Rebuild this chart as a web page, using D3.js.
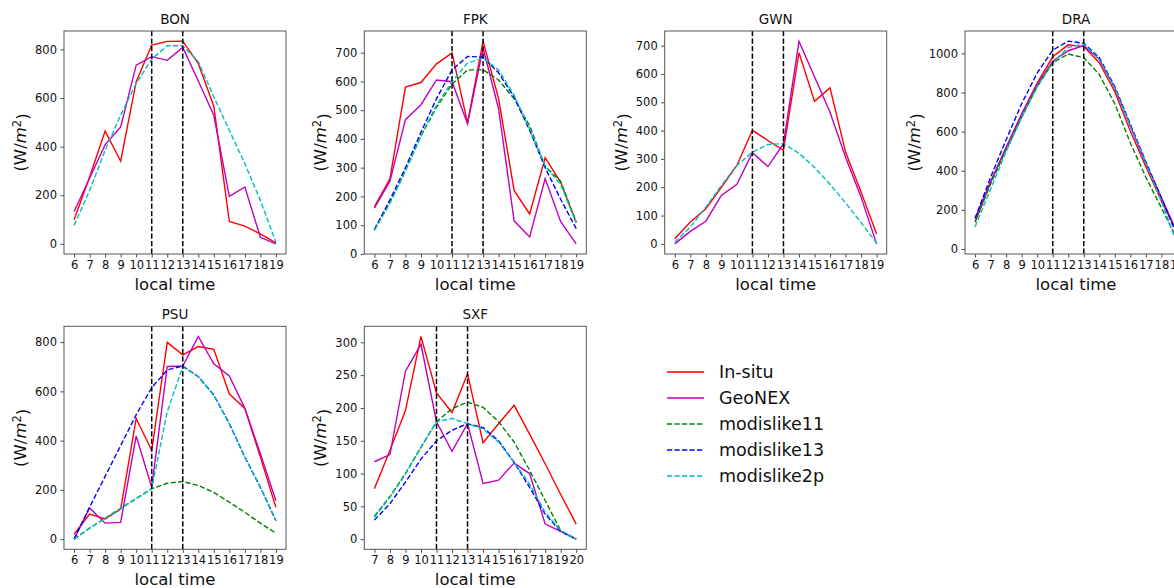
<!DOCTYPE html>
<html>
<head>
<meta charset="utf-8">
<script src="https://cdn.jsdelivr.net/npm/d3@7"></script>
<style>
  body { margin: 0; background: #fff; }
  text { font-family: "DejaVu Sans", sans-serif; fill: #111; }
</style>
</head>
<body>
<svg id="chart" width="1174" height="588"></svg>
<script>
// ---- data ----
const hours6to19 = [6, 7, 8, 9, 10, 11, 12, 13, 14, 15, 16, 17, 18, 19];
const hours7to20 = [7, 8, 9, 10, 11, 12, 13, 14, 15, 16, 17, 18, 19, 20];

const seriesNames = ['In-situ', 'GeoNEX', 'modislike11', 'modislike13', 'modislike2p'];
const seriesColors = ['#ff0000', '#bf00bf', '#008000', '#0000ff', '#00bfbf'];
const seriesDashed = [false, false, true, true, true];

const stations = ['BON', 'FPK', 'GWN', 'DRA', 'PSU', 'SXF'];
const yTickSteps = [200, 100, 100, 200, 200, 50];
const overpassHours = [11, 13];

const BON = {
  insitu: [99, 275, 464, 340, 667, 818, 833, 834, 742, 566, 92, 73, 41, 4],
  geonex: [133, 270, 408, 481, 735, 770, 755, 808, 670, 529, 195, 234, 27, 0],
  m11: null,
  m13: null,
  m2p: [76, 220, 385, 530, 660, 760, 815, 815, 750, 605, 467, 330, 179, 7]
};
const FPK = {
  insitu: [164, 261, 580, 596, 661, 699, 456, 740, 540, 221, 139, 335, 249, 108],
  geonex: [159, 253, 467, 519, 605, 599, 452, 716, 505, 115, 59, 262, 112, 35],
  m11: [85, 180, 290, 410, 510, 590, 640, 640, 605, 540, 446, 305, 252, 112],
  m13: [85, 188, 300, 423, 540, 640, 687, 684, 630, 545, 430, 300, 190, 88],
  m2p: [82, 176, 288, 411, 517, 599, 664, 681, 640, 552, 435, 305, 241, 108]
};
const GWN = {
  insitu: [18, 77, 124, 200, 277, 401, 365, 330, 675, 504, 551, 324, 183, 35],
  geonex: [0, 44, 80, 171, 210, 322, 273, 354, 716, 590, 465, 306, 165, 0],
  m11: null,
  m13: null,
  m2p: [6, 59, 130, 206, 277, 324, 351, 354, 320, 270, 210, 145, 75, 3]
};
const DRA = {
  insitu: [136, 341, 516, 690, 848, 983, 1044, 1035, 953, 804, 603, 420, 245, 87],
  geonex: [157, 345, 520, 690, 840, 960, 1014, 1040, 970, 822, 629, 437, 262, 87],
  m11: [140, 332, 507, 673, 830, 953, 997, 979, 892, 743, 542, 367, 210, 52],
  m13: [157, 367, 559, 743, 900, 1017, 1063, 1052, 979, 830, 638, 446, 262, 70],
  m2p: [114, 306, 498, 673, 830, 953, 1031, 1049, 970, 822, 629, 437, 245, 26]
};
const PSU = {
  insitu: [20, 102, 82, 122, 490, 360, 799, 748, 782, 771, 589, 531, 333, 129],
  geonex: [0, 127, 65, 68, 419, 211, 701, 703, 823, 712, 663, 531, 347, 156],
  m11: [0, 45, 85, 125, 165, 205, 227, 234, 218, 190, 150, 109, 65, 24],
  m13: [0, 130, 255, 380, 505, 615, 687, 703, 660, 585, 469, 333, 211, 75],
  m2p: [0, 45, 85, 125, 165, 205, 517, 700, 660, 585, 469, 333, 211, 75]
};
const SXF = {
  insitu: [77, 135, 196, 309, 223, 193, 252, 147, 176, 204, 160, 115, 68, 23],
  geonex: [118, 129, 256, 297, 179, 134, 176, 85, 90, 116, 100, 23, 12, 0],
  m11: [35, 65, 100, 140, 179, 199, 209, 201, 179, 148, 105, 59, 13, 0],
  m13: [29, 54, 87, 122, 150, 166, 176, 170, 150, 117, 79, 38, 12, 0],
  m2p: [33, 64, 99, 140, 179, 184, 176, 168, 148, 117, 84, 41, 13, 0]
};
const stationData = [BON, FPK, GWN, DRA, PSU, SXF];
const stationHours = [hours6to19, hours6to19, hours6to19, hours6to19, hours6to19, hours7to20];
const seriesKeys = ['insitu', 'geonex', 'm11', 'm13', 'm2p'];

// ---- layout ----
const colLeft = [64, 364.3, 664.7, 965];
const rowTop = [31, 326.3];
const panelW = 222, panelH = 223;

const svg = d3.select('#chart');

stations.forEach((name, i) => {
  const data = stationData[i];
  const hours = stationHours[i];
  const left = colLeft[i % 4], top = rowTop[Math.floor(i / 4)];

  const g = svg.append('g').attr('transform', `translate(${left},${top})`);

  // matplotlib-like autoscale with 5% margins
  const allVals = seriesKeys.filter(k => data[k]).flatMap(k => data[k]);
  const [yMin, yMax] = d3.extent(allVals);
  const yPad = (yMax - yMin) * 0.05;
  const xPad = (hours[hours.length - 1] - hours[0]) * 0.05;

  const x = d3.scaleLinear()
    .domain([hours[0] - xPad, hours[hours.length - 1] + xPad])
    .range([0, panelW]);
  const y = d3.scaleLinear()
    .domain([yMin - yPad, yMax + yPad])
    .range([panelH, 0]);

  const clipId = `clip-${name}`;
  g.append('clipPath').attr('id', clipId)
    .append('rect').attr('width', panelW).attr('height', panelH);

  const plot = g.append('g').attr('clip-path', `url(#${clipId})`);

  const line = d3.line()
    .x((d, j) => x(hours[j]))
    .y(d => y(d));

  seriesKeys.forEach((k, s) => {
    if (!data[k]) return;
    plot.append('path')
      .datum(data[k])
      .attr('d', line)
      .attr('fill', 'none')
      .attr('stroke', seriesColors[s])
      .attr('stroke-width', 1.4)
      .attr('stroke-dasharray', seriesDashed[s] ? '5.2,2.3' : null);
  });

  // overpass time markers
  plot.selectAll('.vline')
    .data(overpassHours)
    .join('line')
    .attr('x1', d => x(d)).attr('x2', d => x(d))
    .attr('y1', 0).attr('y2', panelH)
    .attr('stroke', '#000')
    .attr('stroke-width', 1.5)
    .attr('stroke-dasharray', '5.2,2.3');

  // axes
  const yTicks = d3.range(Math.ceil(y.domain()[0] / yTickSteps[i]) * yTickSteps[i], y.domain()[1], yTickSteps[i]);
  const xAxis = d3.axisBottom(x).tickValues(hours).tickFormat(d3.format('d')).tickSize(3.5).tickPadding(3.5);
  const yAxis = d3.axisLeft(y).tickValues(yTicks).tickFormat(d3.format('d')).tickSize(3.5).tickPadding(3.5);

  const gx = g.append('g').attr('transform', `translate(0,${panelH})`).call(xAxis);
  const gy = g.append('g').call(yAxis);
  [gx, gy].forEach(a => {
    a.select('.domain').remove();
    a.selectAll('line').attr('stroke', '#333').attr('stroke-width', 0.9);
    a.selectAll('text').style('font-size', '11.5px').attr('fill', '#111');
  });

  g.append('rect')
    .attr('width', panelW).attr('height', panelH)
    .attr('fill', 'none')
    .attr('stroke', '#555')
    .attr('stroke-width', 1);

  // title
  g.append('text')
    .attr('x', panelW / 2).attr('y', -7.5)
    .attr('text-anchor', 'middle')
    .style('font-size', '13.5px')
    .text(name);

  // x label
  g.append('text')
    .attr('x', panelW / 2).attr('y', panelH + 36)
    .attr('text-anchor', 'middle')
    .style('font-size', '16.5px')
    .text('local time');

  // y label, placed next to tick labels
  const bb = gy.node().getBBox();
  const yl = g.append('text')
    .attr('transform', `translate(${bb.x - 9},${panelH / 2}) rotate(-90)`)
    .attr('text-anchor', 'middle')
    .style('font-size', '16.5px');
  yl.append('tspan').text('(W/');
  yl.append('tspan').style('font-style', 'italic').text('m');
  yl.append('tspan').attr('dy', '-0.45em').style('font-size', '11.5px').text('2');
  yl.append('tspan').attr('dy', '0.45em').text(')');
});

// ---- legend ----
const legend = svg.append('g').attr('transform', 'translate(667,372)');
const legendRow = 26;
seriesNames.forEach((n, s) => {
  const row = legend.append('g').attr('transform', `translate(0,${s * legendRow})`);
  row.append('line')
    .attr('x1', 0).attr('x2', 37)
    .attr('stroke', seriesColors[s])
    .attr('stroke-width', 1.5)
    .attr('stroke-dasharray', seriesDashed[s] ? '5.2,2.3' : null);
  row.append('text')
    .attr('x', 52).attr('dy', '0.35em')
    .style('font-size', '17.5px')
    .text(n);
});
</script>
</body>
</html>
